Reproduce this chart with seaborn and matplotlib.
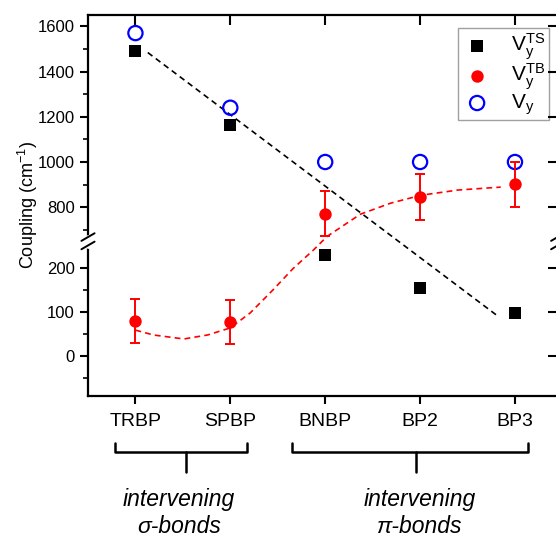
import numpy as np
import pandas as pd
import matplotlib
matplotlib.use("Agg")
import matplotlib.pyplot as plt
import seaborn as sns

# values
molecules = ["TRBP", "SPBP", "BNBP", "BP2", "BP3"]
v_ts = [1490, 1163, 230, 155, 98]
v_tb = [80, 77, 772, 845, 902]
v_tb_err = [50, 50, 100, 100, 100]
v_total = [1570, 1240, 1000, 1000, 1000]

# dashed guide lines (x in molecule index units)
ts_fit_x = [0.13, 3.83]
ts_fit_y = [1484, 89]
tb_fit_x = [0.0, 0.19, 0.51, 0.76, 1.0, 1.21, 1.45, 1.66, 1.88, 2.02, 2.37, 2.69, 3.01, 3.40, 3.85]
tb_fit_y = [59, 48, 39, 48, 64, 98, 150, 198, 241, 671, 769, 818, 853, 876, 889]

y_major = [0, 100, 200, 800, 1000, 1200, 1400, 1600]
y_minor = [-50, 50, 150, 700, 900, 1100, 1300, 1500]

sns.set_theme(style="ticks")
plt.rcParams['font.family'] = ['Liberation Sans', 'DejaVu Sans']
plt.rcParams['mathtext.fontset'] = 'custom'
plt.rcParams['mathtext.rm'] = 'Liberation Sans'
plt.rcParams['mathtext.it'] = 'Liberation Sans:italic'
plt.rcParams['mathtext.bf'] = 'Liberation Sans:bold'
plt.rcParams['mathtext.default'] = 'rm'
for key in ['text.color', 'axes.labelcolor', 'xtick.color', 'ytick.color', 'axes.edgecolor']:
    plt.rcParams[key] = 'black'

df = pd.DataFrame({"pos": np.arange(len(molecules)), "molecule": molecules,
                   "ts": v_ts, "tb": v_tb, "err": v_tb_err, "vy": v_total})

# broken y axis: lower part (<260) stretched, gap 260-650 squeezed out
lo, hi, k = 260, 650, 1.955
def fwd(y):
    return np.interp(y, [-1e4, lo, hi, 1e5], [-1e4 * k, lo * k, lo * k + 0.5, lo * k + 0.5 + 1e5 - hi])
def inv(f):
    return np.interp(f, [-1e4 * k, lo * k, lo * k + 0.5, lo * k + 0.5 + 1e5 - hi], [-1e4, lo, hi, 1e5])

fig = plt.figure(figsize=(5.56, 5.37), dpi=100)
ax = fig.add_axes([88 / 556, 1 - 396 / 537, 1.003 - 88 / 556, (396 - 15) / 537])
ax.set_yscale('function', functions=(fwd, inv))
ax.set_ylim(-90, 1650)
ax.set_xlim(-0.5, 4.45)

sns.lineplot(x=ts_fit_x, y=ts_fit_y, sort=False, estimator=None, color='black',
             linestyle=(0, (3.5, 2.5)), lw=1.2, ax=ax)
sns.lineplot(x=tb_fit_x, y=tb_fit_y, sort=False, estimator=None, color='red',
             linestyle=(0, (3.5, 2.5)), lw=1.2, ax=ax)

ax.errorbar(df['pos'], df['tb'], yerr=df['err'], fmt='none', ecolor='red',
            elinewidth=1.4, capsize=3.5, capthick=1.4, zorder=3)
sns.scatterplot(data=df, x='pos', y='ts', marker='s', color='black', s=75,
                linewidth=0, label=r'V$_y^{TS}$', ax=ax, zorder=4)
sns.scatterplot(data=df, x='pos', y='tb', marker='o', color='red', s=80,
                linewidth=0, label=r'V$_y^{TB}$', ax=ax, zorder=4)
ax.scatter(df['pos'], df['vy'], marker='o', s=105, facecolors='none',
           edgecolors='blue', linewidths=1.6, label=r'V$_y$', zorder=2)

ax.set_xticks(df['pos'], molecules)
ax.set_yticks(y_major)
ax.set_xlabel('')
ax.set_ylabel(r'Coupling (cm$^{-1}$)', fontsize=13, labelpad=-2)
ax.tick_params(axis='x', labelsize=14, width=1.5, length=6, direction='out', pad=6)
ax.tick_params(axis='y', which='major', labelsize=12, width=1.5, length=6, direction='out')
ax.minorticks_on()
ax.xaxis.set_minor_locator(matplotlib.ticker.NullLocator())
ax.set_yticks(y_minor, minor=True)
ax.tick_params(axis='y', which='minor', width=1.2, length=3.5, direction='out')
for s in ax.spines.values():
    s.set_linewidth(1.6)

leg = ax.legend(loc='upper right', bbox_to_anchor=(0.981, 0.966), borderaxespad=0,
                fontsize=15, fancybox=False, framealpha=1, edgecolor='#a0a0a0',
                handletextpad=0.9, handlelength=1.5, labelspacing=0.0, borderpad=0.15)
leg.get_frame().set_linewidth(1.0)

# inward ticks on top and right
ax2 = fig.add_axes(ax.get_position(), sharex=ax, sharey=ax)
ax2.set_facecolor('none')
for s in ax2.spines.values():
    s.set_visible(False)
ax2.tick_params(which='both', left=False, bottom=False, labelleft=False, labelbottom=False)
ax2.tick_params(which='minor', right=False, top=False)
ax2.tick_params(which='major', top=True, right=True, direction='in', length=7, width=1.5,
                labeltop=False, labelright=False)

# axis break marks
yb = (fwd(lo) - fwd(-90)) / (fwd(1650) - fwd(-90))
for xs in (0.0, 1.0):
    ax.plot([xs, xs], [yb - 0.012, yb + 0.012], color='white', lw=3.5,
            transform=ax.transAxes, clip_on=False, zorder=10)
    for d in (-0.011, 0.011):
        ax.plot([xs - 0.014, xs + 0.014], [yb + d - 0.01, yb + d + 0.01], color='black',
                lw=1.4, transform=ax.transAxes, clip_on=False, zorder=11)

# group brackets under the axis
tr = ax.get_xaxis_transform()
for x0, x1, xm, line2 in [(-0.22, 1.18, 0.53, '\u03c3-bonds'), (1.65, 4.14, 2.96, '\u03c0-bonds')]:
    ax.plot([x0, x0, x1, x1], [-0.123, -0.147, -0.147, -0.123], color='black', lw=1.8,
            transform=tr, clip_on=False, solid_joinstyle='round')
    ax.plot([xm, xm], [-0.147, -0.199], color='black', lw=1.8, transform=tr, clip_on=False)
    xt = xm - 0.07 if xm < 1 else xm + 0.04
    ax.text(xt, -0.272, 'intervening', transform=tr, ha='center', va='center',
            fontsize=16.5, style='italic')
    ax.text(xt, -0.343, line2, transform=tr, ha='center', va='center',
            fontsize=16.5, style='italic')

fig.savefig('out.png', dpi=100)
